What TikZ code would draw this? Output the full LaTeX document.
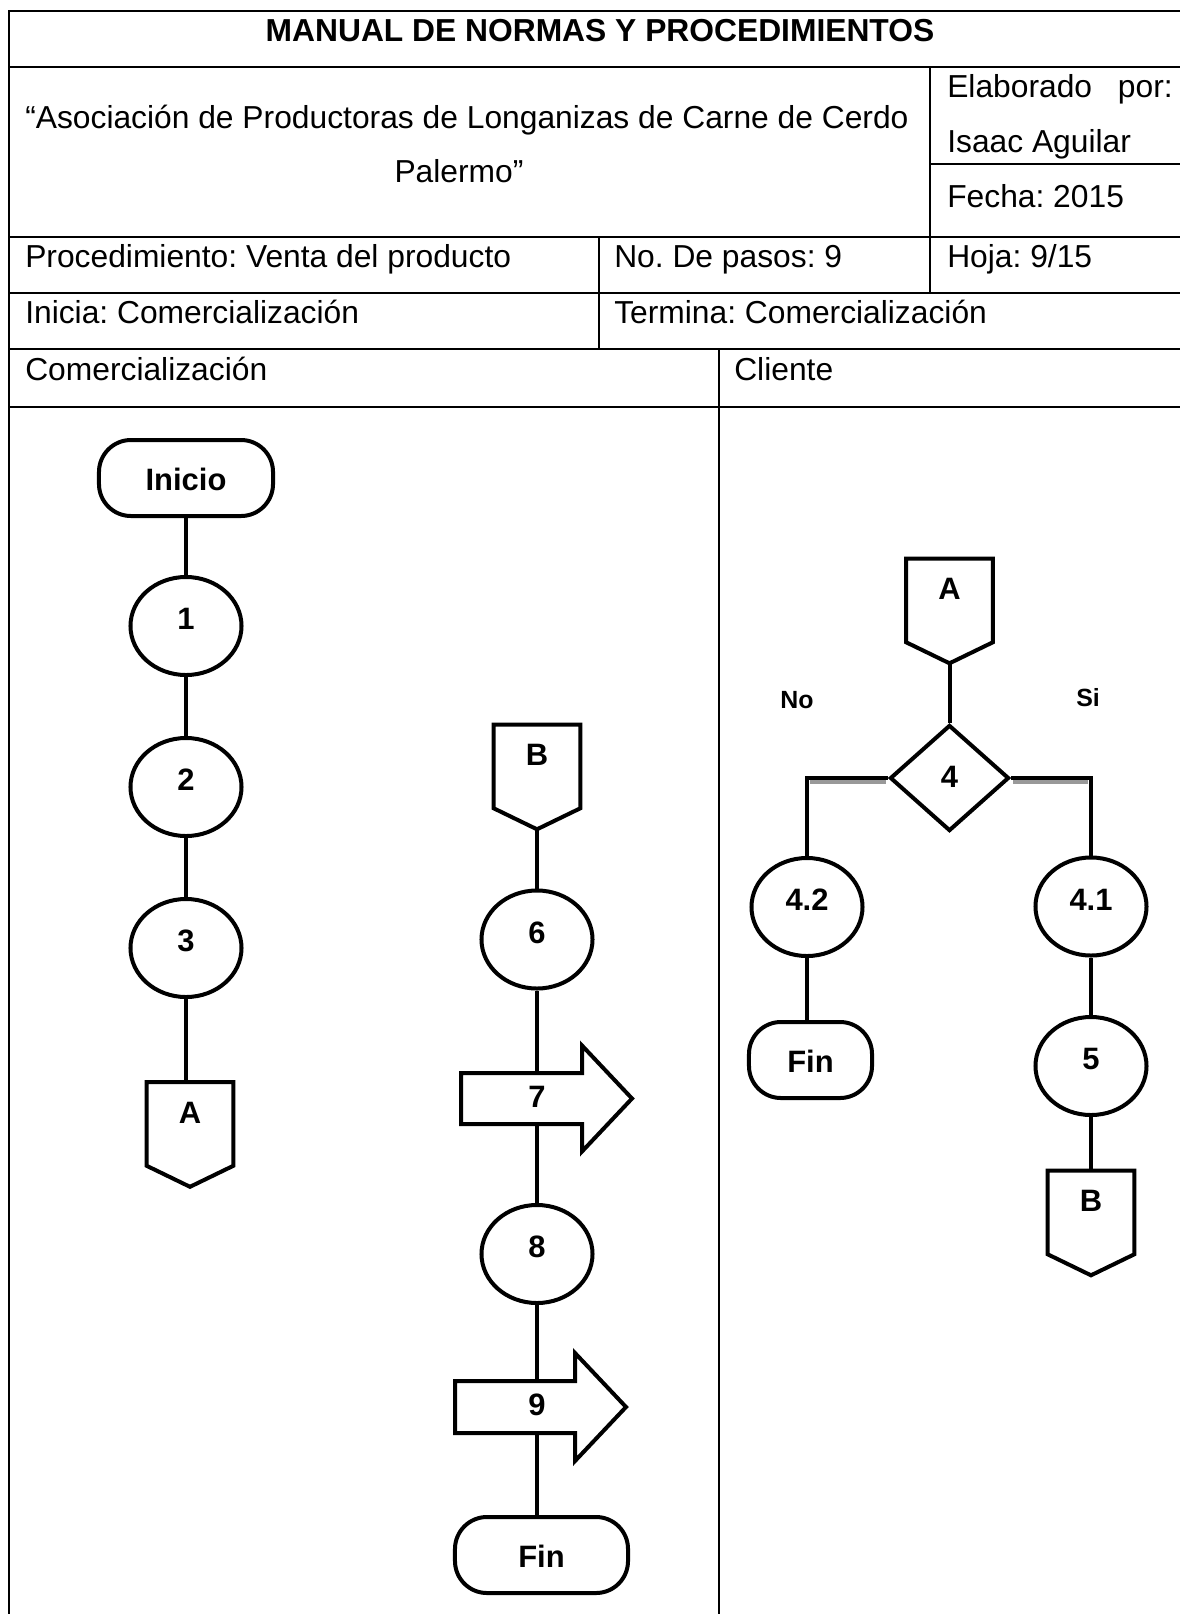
\documentclass[tikz,border=0pt]{standalone}
\usepackage{fontspec}
\setmainfont{Liberation Sans}
\usetikzlibrary{calc,shapes.geometric}
\frenchspacing
\begin{document}
\begin{tikzpicture}[x=0.025cm,y=-0.025cm,
  tbl/.style={line width=0.05cm},
  txt/.style={anchor=base west, inner sep=0, font=\fontsize{22.6}{27}\selectfont},
  ttl/.style={anchor=base, inner sep=0, font=\fontsize{22.6}{27}\selectfont\bfseries},
  fl/.style={line width=0.1cm},
  bf/.style={font=\fontsize{22}{26}\selectfont\bfseries},
  proc/.style={ellipse, draw, fl, bf, minimum width=2.775cm, minimum height=2.45cm, inner sep=0, text height=0.55cm, text depth=0.375cm},
  term/.style={rectangle, rounded corners=0.8cm, draw, fl, bf, minimum height=1.9cm, inner sep=0, text height=0.6cm, text depth=0cm},
  offp/.style={rectangle, bf, inner sep=0, minimum width=2.15cm, minimum height=2.6cm, text height=0.55cm, text depth=1.125cm},
  arw/.style={rectangle, bf, inner sep=0, minimum width=0.75cm, minimum height=1.275cm, text height=0.55cm, text depth=0.125cm},
  dec/.style={diamond, draw, fl, bf, minimum width=2.975cm, minimum height=2.65cm, inner sep=0, text height=0.55cm, text depth=0.1cm},
  lbl/.style={anchor=base, inner sep=0, font=\fontsize{17.7}{20}\selectfont\bfseries},
  conn/.style={line width=0.1cm},
  shadow/.style={line width=0.1cm, black!40},
]
\useasboundingbox (0,0) rectangle (1180,1614);

% ---- table frame ----
\draw[line width=0.065cm] (9,11) -- (9,1614);
\draw[tbl] (8,11) -- (1180,11);
\draw[tbl] (9,67) -- (1180,67);
\draw[tbl] (930,164) -- (1180,164);
\draw[tbl] (9,237) -- (1180,237);
\draw[tbl] (9,293) -- (1180,293);
\draw[tbl] (9,349) -- (1180,349);
\draw[tbl] (9,407) -- (1180,407);
\draw[tbl] (930,67) -- (930,293);
\draw[tbl] (599,237) -- (599,349);
\draw[tbl] (719,349) -- (719,1614);

% ---- table texts ----
\node[ttl] (title) at (600,41) {MANUAL DE NORMAS Y PROCEDIMIENTOS};
\node[txt] (asoc) at (25,128) {“Asociación de Productoras de Longanizas de Carne de Cerdo};
\node[txt, anchor=base] (pal) at (459,182) {Palermo”};
\node[txt] (elab) at (947,97) {Elaborado};
\node[txt, anchor=base east] (por) at (1173,97) {por:};
\node[txt] (isaac) at (947,152) {Isaac Aguilar};
\node[txt] (fecha) at (947,207) {Fecha: 2015};
\node[txt] (proced) at (25,267) {Procedimiento: Venta del producto};
\node[txt] (pasos) at (614,267) {No. De pasos: 9};
\node[txt] (hoja) at (947,267) {Hoja: 9/15};
\node[txt] (inicia) at (25,323) {Inicia: Comercialización};
\node[txt] (termina) at (614,323) {Termina: Comercialización};
\node[txt] (comer) at (25,380) {Comercialización};
\node[txt] (cliente) at (734,380) {Cliente};

% ---- left lane ----
\node[term, minimum width=4.35cm] (ini) at (186,478) {Inicio};
\node[proc] (c1) at (186,626) {1};
\node[proc] (c2) at (186,787) {2};
\node[proc] (c3) at (186,948) {3};
\node[offp] (ca1) at (190,1134.5) {A};
\draw[fl, line join=miter] (ca1.north west) -- (ca1.north east) -- ($(ca1.south east)+(0,-21)$) -- (ca1.south) -- ($(ca1.south west)+(0,-21)$) -- cycle;

\draw[conn] (ini.south) -- (c1.north);
\draw[conn] (c1.south) -- (c2.north);
\draw[conn] (c2.south) -- (c3.north);
\draw[conn] (c3.south) -- (c3.south |- ca1.north);

% ---- middle column ----
\node[offp] (cb1) at (537,777) {B};
\draw[fl, line join=miter] (cb1.north west) -- (cb1.north east) -- ($(cb1.south east)+(0,-21)$) -- (cb1.south) -- ($(cb1.south west)+(0,-21)$) -- cycle;
\node[proc] (c6) at (537,939.5) {6};
\node[arw] (a7) at (537,1098.5) {7};
\draw[fl, line join=miter] ($(a7.center)+(-76,-25.5)$) -- ($(a7.center)+(45,-25.5)$) -- ($(a7.center)+(45,-53)$) -- ($(a7.center)+(95,0)$) -- ($(a7.center)+(45,53)$) -- ($(a7.center)+(45,25.5)$) -- ($(a7.center)+(-76,25.5)$) -- cycle;
\node[proc] (c8) at (537,1254) {8};
\node[arw, minimum height=1.3cm] (a9) at (537,1407) {9};
\draw[fl, line join=miter] ($(a9.center)+(-82,-26)$) -- ($(a9.center)+(38,-26)$) -- ($(a9.center)+(38,-54)$) -- ($(a9.center)+(89,0)$) -- ($(a9.center)+(38,54)$) -- ($(a9.center)+(38,26)$) -- ($(a9.center)+(-82,26)$) -- cycle;
\node[term, minimum width=4.325cm] (fin2) at (541.5,1555) {Fin};

\draw[conn] (cb1.south) -- (c6.north);
\draw[conn] (c6.south) -- (a7.north);
\draw[conn] (a7.south) -- (c8.north);
\draw[conn] (c8.south) -- (a9.north);
\draw[conn] (a9.south) -- (a9.south |- fin2.north);

% ---- right lane ----
\node[offp] (ca2) at (949.5,611) {A};
\draw[fl, line join=miter] (ca2.north west) -- (ca2.north east) -- ($(ca2.south east)+(0,-21)$) -- (ca2.south) -- ($(ca2.south west)+(0,-21)$) -- cycle;
\node[dec] (d4) at (949.5,778) {4};
\node[proc] (c42) at (807,907) {4.2};
\node[term, minimum width=3.075cm] (fin1) at (810.5,1060) {Fin};
\node[proc] (c41) at (1091,906.5) {4.1};
\node[proc] (c5) at (1091,1066) {5};
\node[offp] (cb2) at (1091,1223) {B};
\draw[fl, line join=miter] (cb2.north west) -- (cb2.north east) -- ($(cb2.south east)+(0,-21)$) -- (cb2.south) -- ($(cb2.south west)+(0,-21)$) -- cycle;

\node[lbl] (no) at (797,708) {No};
\node[lbl] (si) at (1088,706) {Si};

\draw[shadow] ($(d4.west)+(-2,4)$) -- ($(d4.west -| c42.north)+(3,4)$);
\draw[shadow] ($(d4.east)+(2,4)$) -- ($(d4.east -| c41.north)+(-3,4)$);

\draw[conn] (ca2.south) -- (d4.north);
\draw[conn, line join=miter] (d4.west) -- (d4.west -| c42.north) -- (c42.north);
\draw[conn, line join=miter] (d4.east) -- (d4.east -| c41.north) -- (c41.north);
\draw[conn] (c42.south) -- (c42.south |- fin1.north);
\draw[conn] (c41.south) -- (c5.north);
\draw[conn] (c5.south) -- (cb2.north);
\end{tikzpicture}
\end{document}
